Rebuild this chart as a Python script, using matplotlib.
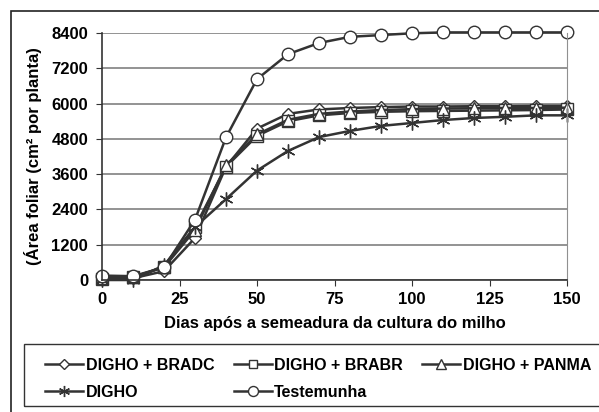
import matplotlib.pyplot as plt
from matplotlib.patches import Rectangle

plt.rcParams['font.family'] = ['Liberation Sans', 'DejaVu Sans']
plt.rcParams['font.weight'] = 'bold'

# days after sowing
dias = [0, 10, 20, 30, 40, 50, 60, 70, 80, 90, 100, 110, 120, 130, 140, 150]

# leaf area (cm2 per plant)
bradc = [40, 60, 300, 1430, 3850, 5150, 5650, 5800, 5850, 5880, 5900, 5900, 5910, 5910, 5920, 5920]
brabr = [30, 90, 450, 1800, 3850, 4900, 5400, 5600, 5680, 5720, 5740, 5750, 5760, 5770, 5780, 5800]
panma = [60, 100, 430, 1700, 3900, 4950, 5450, 5650, 5730, 5780, 5810, 5830, 5840, 5850, 5850, 5860]
digho = [0, 0, 500, 1800, 2750, 3720, 4390, 4860, 5070, 5240, 5340, 5440, 5510, 5550, 5600, 5600]
testemunha = [150, 130, 430, 2050, 4850, 6830, 7680, 8060, 8270, 8330, 8390, 8420, 8420, 8420, 8420, 8420]

yticks = [0, 1200, 2400, 3600, 4800, 6000, 7200, 8400]
xticks = [0, 25, 50, 75, 100, 125, 150]

fig = plt.figure(figsize=(5.99, 4.12), dpi=100)
ax = fig.add_axes([102/599, 1 - 280/412, 465/599, 247/412])

lc = '#333333'
common = dict(color=lc, lw=1.8, mfc='white', mec=lc, mew=1.0)
l1, = ax.plot(dias, bradc, marker='D', ms=6.5, label='DIGHO + BRADC', **common)
l2, = ax.plot(dias, brabr, marker='s', ms=8, label='DIGHO + BRABR', **common)
l3, = ax.plot(dias, panma, marker='^', ms=9, label='DIGHO + PANMA', **common)
l4, = ax.plot(dias, digho, marker=(6, 2, 0), ms=10, label='DIGHO', **common)
l5, = ax.plot(dias, testemunha, marker='o', ms=9, label='Testemunha', **common)
for l in (l1, l2, l3, l4, l5):
    l.set_clip_on(False)

ax.set_xlim(0, 150)
ax.set_ylim(0, 8400)
ax.set_xticks(xticks)
ax.set_yticks(yticks)
ax.grid(axis='y', color='#808080', lw=1.2)
ax.set_axisbelow(True)
ax.spines['top'].set_visible(False)
ax.spines['right'].set_color('#909090')
ax.spines['left'].set_color('#333333')
ax.spines['bottom'].set_color('#333333')
ax.spines['left'].set_linewidth(1.2)
ax.spines['bottom'].set_linewidth(1.2)
ax.tick_params(axis='both', labelsize=12, direction='out', length=4, color='#333333', pad=6)
ax.tick_params(axis='x', pad=5)

ax.set_xlabel('Dias após a semeadura da cultura do milho', fontsize=12, fontweight='bold', labelpad=6)
ax.set_ylabel('(Área foliar (cm² por planta)', fontsize=12, fontweight='bold', labelpad=7)

# legend filled row by row, frame drawn by hand so it runs off the right edge
handles = [l1, l4, l2, l5, l3]
leg = fig.legend(handles, [h.get_label() for h in handles], ncol=3,
                 loc='upper left', bbox_to_anchor=(37/599, 1 - 350/412),
                 frameon=False, borderpad=0, handlelength=2.4,
                 handletextpad=0.15, columnspacing=1.2, labelspacing=0.75,
                 markerscale=0.8, prop={'weight': 'bold', 'size': 11.5})

fig.patches.append(Rectangle((24/599, 6/412), 1.0, (412 - 344 - 6)/412,
                             transform=fig.transFigure, fill=False,
                             edgecolor='#333333', lw=1.0))

# outer chart border
fig.patches.append(Rectangle((11/599, -0.05), 1.0, (412 - 11)/412 + 0.05,
                             transform=fig.transFigure, fill=False,
                             edgecolor='#222222', lw=1.2))

fig.savefig('out.png', dpi=100)
